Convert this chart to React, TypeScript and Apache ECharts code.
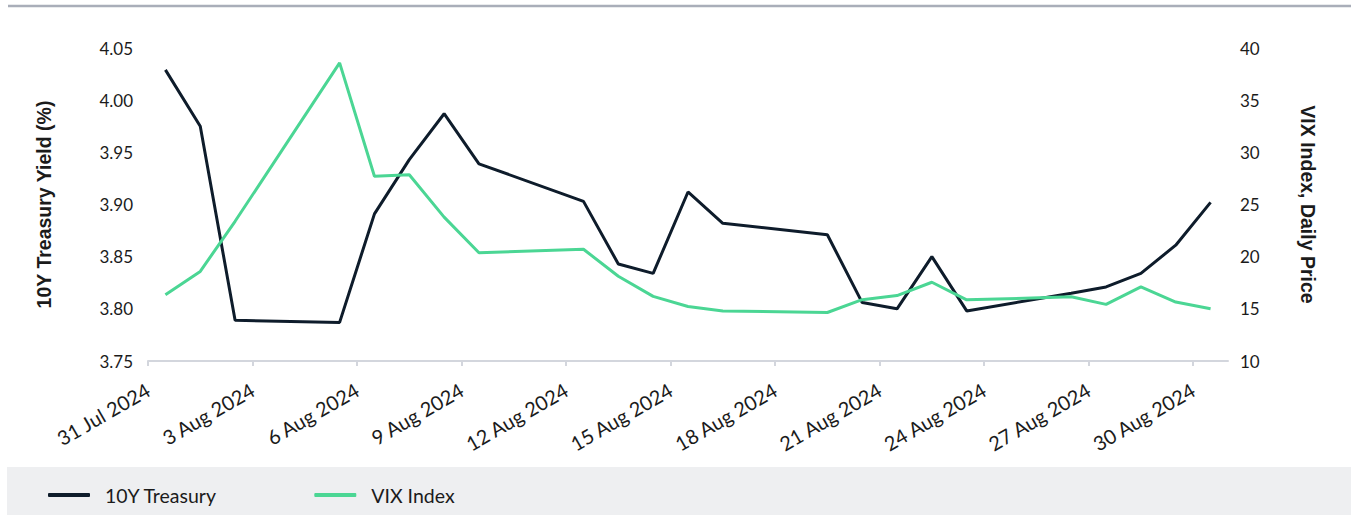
import React, { useEffect, useRef } from "react";
import * as echarts from "echarts";

const tradingDays = [
  "2024-07-31", "2024-08-01", "2024-08-02", "2024-08-05", "2024-08-06", "2024-08-07",
  "2024-08-08", "2024-08-09", "2024-08-12", "2024-08-13", "2024-08-14", "2024-08-15",
  "2024-08-16", "2024-08-19", "2024-08-20", "2024-08-21", "2024-08-22", "2024-08-23",
  "2024-08-26", "2024-08-27", "2024-08-28", "2024-08-29", "2024-08-30",
];
const treasury10Y = [
  4.029, 3.975, 3.789, 3.787, 3.891, 3.943, 3.987, 3.939, 3.903, 3.843, 3.834, 3.912,
  3.882, 3.871, 3.806, 3.8, 3.85, 3.798, 3.815, 3.821, 3.834, 3.861, 3.902,
];
const vixIndex = [
  16.36, 18.59, 23.39, 38.57, 27.71, 27.85, 23.79, 20.37, 20.71, 18.12, 16.19, 15.23,
  14.8, 14.65, 15.88, 16.27, 17.55, 15.86, 16.15, 15.43, 17.11, 15.65, 15.0,
];
const xTickDates = [
  "2024-07-31", "2024-08-03", "2024-08-06", "2024-08-09", "2024-08-12", "2024-08-15",
  "2024-08-18", "2024-08-21", "2024-08-24", "2024-08-27", "2024-08-30",
];
const xAxisStart = "2024-07-31";
const xAxisEnd = "2024-08-31";
const MONTHS = ["Jan", "Feb", "Mar", "Apr", "May", "Jun", "Jul", "Aug", "Sep", "Oct", "Nov", "Dec"];

const DAY = 86400000;
const ts = (s: string) => {
  const [y, m, d] = s.split("-").map(Number);
  return Date.UTC(y, m - 1, d);
};
const fmtDate = (v: number) => {
  const d = new Date(v);
  return `${d.getUTCDate()} ${MONTHS[d.getUTCMonth()]} ${d.getUTCFullYear()}`;
};

const NAVY = "#0e1c2b";
const GREEN = "#4bd694";
const TEXT = "#1b1b1b";
const FONT = "Lato, 'Open Sans', sans-serif";
const TITLE_FONT = "'Liberation Sans', Arial, sans-serif";

export default function App() {
  const ref = useRef<HTMLDivElement>(null);
  useEffect(() => {
    document.body.style.margin = "0";
    if (!ref.current) return;
    const chart = echarts.init(ref.current, undefined, { renderer: "svg" });
    const tickVals = xTickDates.map(ts);
    const option: any = {
      animation: false,
      backgroundColor: "#ffffff",
      textStyle: { fontFamily: FONT },
      graphic: [
        {
          type: "line",
          shape: { x1: 8, y1: 6, x2: 1351, y2: 6 },
          style: { stroke: "#a9aeb9", lineWidth: 2.5 },
          z: 0,
        },
        {
          type: "rect",
          shape: { x: 7, y: 467, width: 1344, height: 48 },
          style: { fill: "#eeeff1" },
          z: -1,
          silent: true,
        },
      ],
      grid: { left: 148, right: 123, top: 48, bottom: 154, containLabel: false },
      legend: {
        left: 43,
        top: 480,
        itemWidth: 42,
        itemHeight: 4,
        itemGap: 97,
        icon: "roundRect",
        textStyle: { fontSize: 19.5, color: TEXT, fontFamily: FONT, padding: [0, 0, 0, 10] },
        data: [
          { name: "10Y Treasury", itemStyle: { color: NAVY } },
          { name: "VIX Index", itemStyle: { color: GREEN } },
        ],
      },
      xAxis: {
        type: "value",
        min: ts(xAxisStart),
        max: ts(xAxisEnd),
        interval: 3 * DAY,
        splitLine: { show: false },
        axisLine: { show: true, lineStyle: { color: "#d3d6dd", width: 2 } },
        axisTick: {
          show: true,
          customValues: tickVals,
          length: 5,
          lineStyle: { color: "#d3d6dd", width: 2 },
        },
        axisLabel: {
          customValues: tickVals,
          rotate: 30,
          margin: 27,
          fontSize: 20,
          color: TEXT,
          fontFamily: FONT,
          formatter: (v: number) => fmtDate(v),
        },
      },
      yAxis: [
        {
          type: "value",
          min: 3.75,
          max: 4.05,
          interval: 0.05,
          name: "10Y Treasury Yield (%)",
          nameLocation: "middle",
          nameRotate: 90,
          nameGap: 94,
          nameTextStyle: { fontSize: 19.5, fontWeight: "bold", color: TEXT, fontFamily: TITLE_FONT },
          axisLine: { show: false },
          axisTick: { show: false },
          splitLine: { show: false },
          axisLabel: {
            fontSize: 17,
            color: TEXT,
            margin: 15,
            fontFamily: FONT,
            formatter: (v: number) => v.toFixed(2),
          },
        },
        {
          type: "value",
          min: 10,
          max: 40,
          interval: 5,
          position: "right",
          name: "VIX Index, Daily Price",
          nameLocation: "middle",
          nameRotate: -90,
          nameGap: 70,
          nameTextStyle: { fontSize: 19.5, fontWeight: "bold", color: TEXT, fontFamily: TITLE_FONT },
          axisLine: { show: false },
          axisTick: { show: false },
          splitLine: { show: false },
          axisLabel: { fontSize: 17, color: TEXT, margin: 12, fontFamily: FONT },
        },
      ],
      series: [
        {
          name: "10Y Treasury",
          type: "line",
          yAxisIndex: 0,
          showSymbol: false,
          lineStyle: { color: NAVY, width: 3 },
          itemStyle: { color: NAVY },
          data: tradingDays.map((d, i) => [ts(d) + DAY / 2, treasury10Y[i]]),
        },
        {
          name: "VIX Index",
          type: "line",
          yAxisIndex: 1,
          showSymbol: false,
          lineStyle: { color: GREEN, width: 3 },
          itemStyle: { color: GREEN },
          data: tradingDays.map((d, i) => [ts(d) + DAY / 2, vixIndex[i]]),
        },
      ],
    };
    chart.setOption(option);
    return () => chart.dispose();
  }, []);
  return <div ref={ref} style={{ width: 1351, height: 515 }} />;
}
